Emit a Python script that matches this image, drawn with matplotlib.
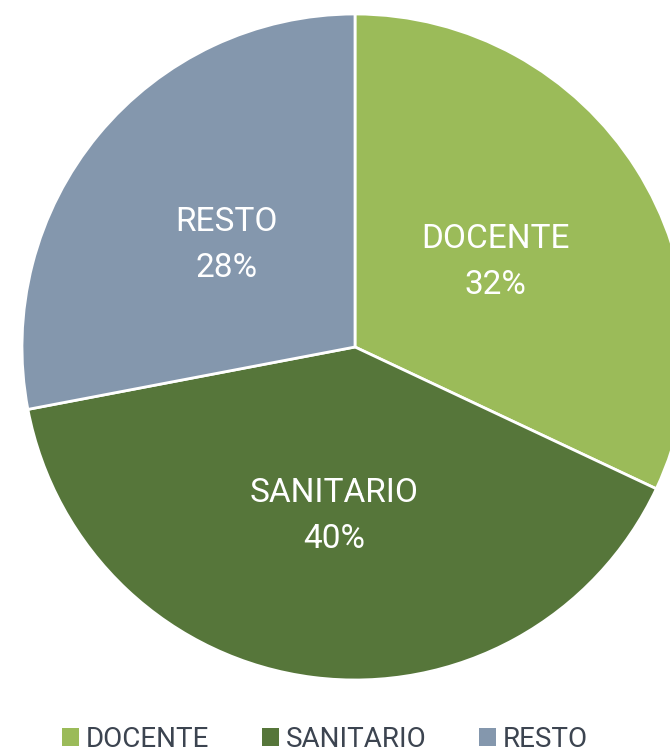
import matplotlib.pyplot as plt
from matplotlib.patches import Patch

labels = ['DOCENTE', 'SANITARIO', 'RESTO']
values = [32, 40, 28]
colors = ['#9BBB59', '#56763A', '#8497AD']

plt.rcParams['font.family'] = ['Roboto', 'DejaVu Sans']

fig = plt.figure(figsize=(6.7, 7.55), dpi=100)
# pie centre ~ (355, 347) px, radius ~333 px
ax = fig.add_axes([22 / 670, 75 / 755, 666 / 670, 666 / 755])

names = iter(labels)
def fmt(p):
    return '%s\n%d%%' % (next(names), round(p))

wedges, texts, autotexts = ax.pie(values, colors=colors, startangle=90, counterclock=False,
                                  labels=None, autopct=fmt, pctdistance=0.5,
                                  wedgeprops=dict(edgecolor='white', linewidth=2),
                                  textprops=dict(color='white', fontsize=24, linespacing=1.55))
for t in autotexts:
    x, y = t.get_position()
    t.set_position((x, y - 0.012))
ax.set_xlim(-1, 1)
ax.set_ylim(-1, 1)
ax.set_aspect('equal')
ax.axis('off')

handles = [Patch(facecolor=c, edgecolor='none') for c in colors]
leg = fig.legend(handles, labels, loc='lower center', ncol=3, frameon=False,
                 bbox_to_anchor=(0.485, -0.03), handlelength=0.6,
                 handleheight=0.6, handletextpad=0.25, columnspacing=1.9,
                 labelcolor='#3C4450', prop=dict(size=20))

fig.savefig('out.png', dpi=100)
